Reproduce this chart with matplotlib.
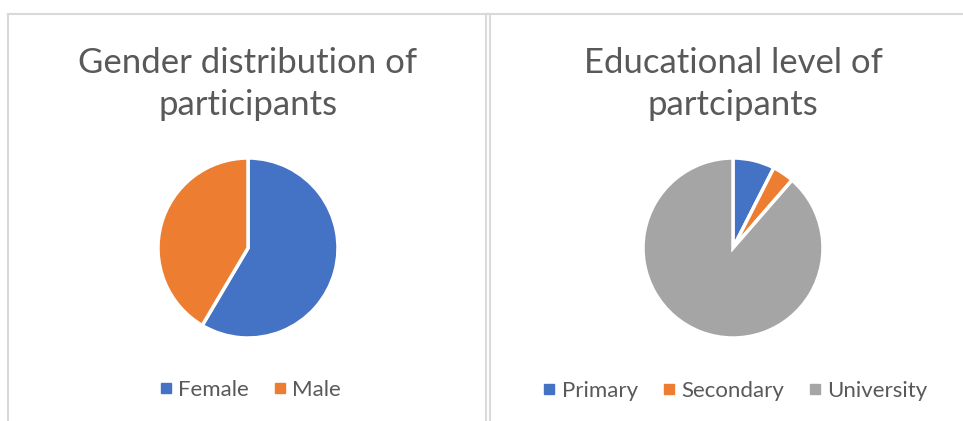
import matplotlib.pyplot as plt
from matplotlib.lines import Line2D

plt.rcParams['font.family'] = ['Lato', 'DejaVu Sans']

gender_labels = ["Female", "Male"]
gender_values = [58.5, 41.5]

edu_labels = ["Primary", "Secondary", "University"]
edu_values = [7.5, 3.9, 88.6]

colors = ["#4472C4", "#ED7D31", "#A5A5A5"]
txt = "#595959"
W, H = 963, 421

fig = plt.figure(figsize=(9.63, 4.21), dpi=100)
fig.patch.set_facecolor("white")

# panel borders
border = "#D9D9D9"
for xs, ys in [([8, W], [14, 14]), ([486, 486], [14, H]),
               ([490, 490], [14, H]), ([8, 8], [14, H])]:
    fig.add_artist(Line2D([x / W for x in xs], [1 - y / H for y in ys],
                          color=border, lw=1.5, transform=fig.transFigure))


def draw_pie(cx, cy, r, values, labels, title, leg_y):
    ax = fig.add_axes([(cx - r) / W, 1 - (cy + r) / H, 2 * r / W, 2 * r / H])
    ax.pie(values, colors=colors[:len(values)], startangle=90, counterclock=False,
           wedgeprops=dict(edgecolor="white", linewidth=2.5))
    ax.set_xlim(-1.0, 1.0)
    ax.set_ylim(-1.0, 1.0)
    ax.set_aspect("equal")
    ax.axis("off")
    fig.text(cx / W, 1 - 84 / H, title, ha="center", va="center",
             fontsize=25, color=txt, linespacing=1.42)
    handles = [Line2D([], [], marker="s", ls="", markersize=7, color=c)
               for c in colors[:len(values)]]
    fig.legend(handles, labels, loc="center", bbox_to_anchor=(cx / W, 1 - leg_y / H),
               ncol=len(labels), frameon=False, fontsize=16, labelcolor=txt,
               handletextpad=0.05, columnspacing=0.9, handlelength=1.0)


draw_pie(248, 248, 90, gender_values, gender_labels,
         "Gender distribution of\nparticipants", 390)
draw_pie(733, 248, 90, edu_values, edu_labels,
         "Educational level of\npartcipants", 391)

fig.savefig("out.png", dpi=100, facecolor="white")
